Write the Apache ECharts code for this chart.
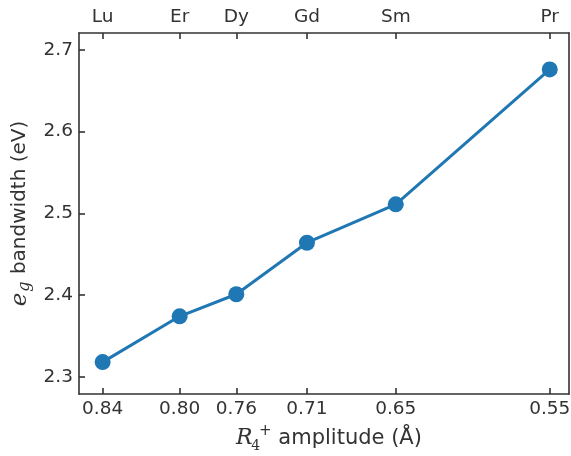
<!DOCTYPE html>
<html>
<head>
<meta charset="utf-8">
<script src="https://cdn.jsdelivr.net/npm/echarts@6/dist/echarts.min.js"></script>
<style>html,body{margin:0;padding:0;background:#fff}#c{width:571px;height:456px}</style>
</head>
<body>
<div id="c"></div>
<script>
const elements = ['Lu', 'Er', 'Dy', 'Gd', 'Sm', 'Pr'];
const amplitudeLabels = ['0.84', '0.80', '0.76', '0.71', '0.65', '0.55'];
const amplitude = [0.845, 0.7942, 0.7568, 0.7102, 0.6516, 0.55];
const bandwidth = [2.318, 2.374, 2.401, 2.464, 2.511, 2.676];
const yTicks = [2.3, 2.4, 2.5, 2.6, 2.7];

const FONT = 'DejaVu Sans';
const TXT = '#333333';
const AX = '#333333';
function idxOf(v) {
  for (let i = 0; i < amplitude.length; i++) if (Math.abs(amplitude[i] - v) < 1e-6) return i;
  return -1;
}
const xMin = 0.5373;
const xMax = 0.8606;
const axisLineStyle = { show: true, lineStyle: { color: AX, width: 1.6 } };

const chart = echarts.init(document.getElementById('c'), null, { renderer: 'canvas' });
chart.setOption({
  animation: false,
  grid: { left: 79, right: 2, top: 33, bottom: 62, containLabel: false, outerBoundsMode: 'none' },
  xAxis: [{
    type: 'value', position: 'bottom', inverse: true, min: xMin, max: xMax,
    axisLine: axisLineStyle,
    axisTick: { show: true, inside: true, length: 6, customValues: amplitude, lineStyle: { color: AX, width: 1.6 } },
    axisLabel: { customValues: amplitude, margin: 6, color: TXT, fontFamily: FONT, fontSize: 18.5,
      formatter: v => { const i = idxOf(v); return i >= 0 ? amplitudeLabels[i] : ''; } },
    splitLine: { show: false },
    name: '{i|R}{sub|4}{sup|+}{t| amplitude (Å)}',
    nameLocation: 'middle', nameGap: 27,
    nameTextStyle: {
      color: TXT, fontFamily: FONT, fontSize: 21, padding: [0, 0, 0, 10],
      rich: {
        i: { fontFamily: 'DejaVu Serif', fontStyle: 'italic', fontSize: 22, color: TXT },
        sub: { fontFamily: 'DejaVu Serif', fontSize: 14, color: TXT, verticalAlign: 'bottom', padding: [15, 0, 0, 3], width: 0 },
        sup: { fontFamily: 'DejaVu Sans', fontSize: 15, color: TXT, verticalAlign: 'top', padding: [0, 0, 8, 3], width: 13 },
        t: { fontFamily: FONT, fontSize: 21, color: TXT }
      }
    }
  }, {
    type: 'value', position: 'top', inverse: true, min: xMin, max: xMax,
    axisLine: axisLineStyle,
    axisTick: { show: true, inside: true, length: 6, customValues: amplitude, lineStyle: { color: AX, width: 1.6 } },
    axisLabel: { customValues: amplitude, margin: 6, color: TXT, fontFamily: FONT, fontSize: 18.5,
      formatter: v => { const i = idxOf(v); return i >= 0 ? elements[i] : ''; } },
    splitLine: { show: false }
  }],
  yAxis: [{
    type: 'value', position: 'left', min: 2.279, max: 2.7205,
    axisLine: axisLineStyle,
    axisTick: { show: true, inside: true, length: 6, customValues: yTicks, lineStyle: { color: AX, width: 1.6 } },
    axisLabel: { customValues: yTicks, margin: 6, color: TXT, fontFamily: FONT, fontSize: 18.5,
      formatter: v => v.toFixed(1) },
    splitLine: { show: false },
    name: '{i|e}{sub|g}{t| bandwidth (eV)}',
    nameLocation: 'middle', nameGap: 43, nameRotate: 90,
    nameTextStyle: {
      color: TXT, fontFamily: FONT, fontSize: 20,
      rich: {
        i: { fontFamily: 'DejaVu Serif', fontStyle: 'italic', fontSize: 23, color: TXT },
        sub: { fontFamily: 'DejaVu Serif', fontStyle: 'italic', fontSize: 16, color: TXT, verticalAlign: 'bottom', padding: [9, 1, 0, 1] },
        t: { fontFamily: FONT, fontSize: 20, color: TXT }
      }
    }
  }, {
    type: 'value', position: 'right', min: 2.279, max: 2.7205,
    axisLine: axisLineStyle, axisTick: { show: false }, axisLabel: { show: false }, splitLine: { show: false }
  }],
  series: [{
    type: 'line',
    data: amplitude.map((x, i) => [x, bandwidth[i]]),
    symbol: 'circle', symbolSize: 16,
    lineStyle: { color: '#1f77b4', width: 3 },
    itemStyle: { color: '#1f77b4' }
  }]
});
</script>
</body>
</html>
